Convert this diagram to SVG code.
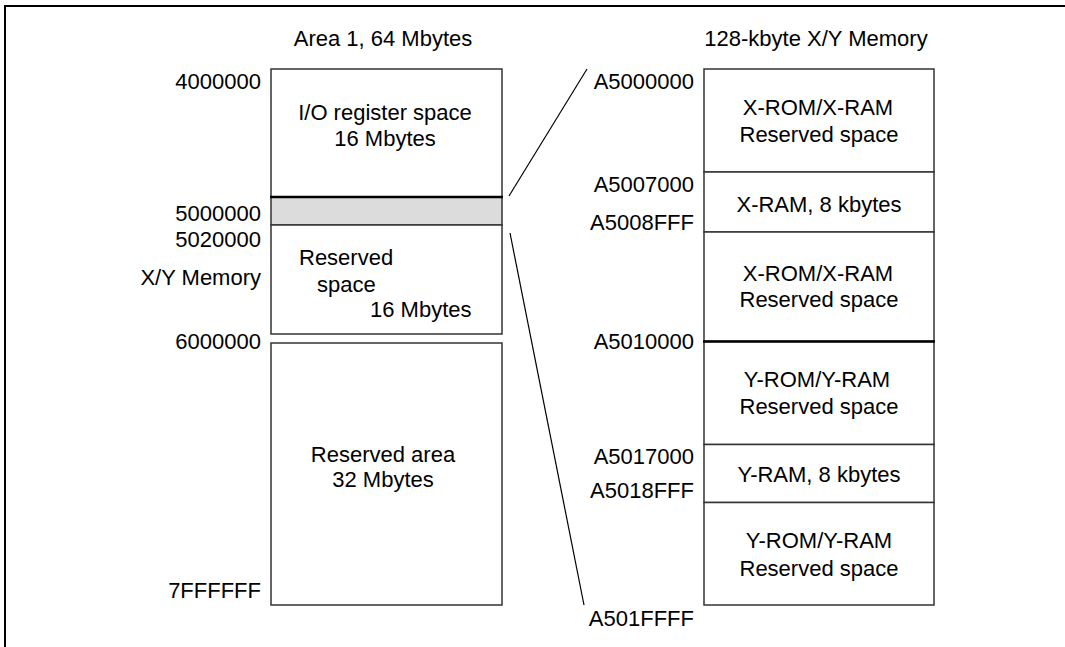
<svg xmlns="http://www.w3.org/2000/svg" width="1065" height="647" viewBox="0 0 1065 647">
<style>
text{font-family:"Liberation Sans",Arial,sans-serif;font-size:22px;fill:#000}
.c{text-anchor:middle}
.r{text-anchor:end}
.box{fill:#fff;stroke:#333;stroke-width:1.5}
.thick{stroke:#000;stroke-width:2.4}
.conn{stroke:#000;stroke-width:1.2;fill:none}
</style>
<rect x="0" y="0" width="1065" height="647" fill="#fff"/>
<rect x="5" y="6" width="1100" height="700" fill="none" stroke="#000" stroke-width="2"/>

<text class="c" x="383" y="46">Area 1, 64 Mbytes</text>
<text class="c" x="816" y="46">128-kbyte X/Y Memory</text>

<g id="left-labels">
<text class="r" x="261" y="89">4000000</text>
<text class="r" x="261" y="221">5000000</text>
<text class="r" x="261" y="247">5020000</text>
<text class="r" x="261" y="285">X/Y Memory</text>
<text class="r" x="261" y="349">6000000</text>
<text class="r" x="261" y="598">7FFFFFF</text>
</g>

<g id="io-register">
<rect class="box" x="271" y="69" width="231" height="128"/>
<text class="c" x="385" y="120">I/O register space</text>
<text class="c" x="385" y="146">16 Mbytes</text>
</g>
<g id="xy-memory">
<rect x="271" y="197" width="231" height="28" fill="#dcdcdc" stroke="#333" stroke-width="1.5"/>
<line class="thick" x1="270" y1="197" x2="503" y2="197"/>
</g>
<g id="reserved-space">
<rect class="box" x="271" y="225" width="231" height="109"/>
<text x="299" y="265">Reserved</text>
<text x="317" y="292">space</text>
<text x="370" y="317">16 Mbytes</text>
</g>
<g id="reserved-area">
<rect class="box" x="271" y="343" width="231" height="262"/>
<text class="c" x="383" y="462">Reserved area</text>
<text class="c" x="383" y="487">32 Mbytes</text>
</g>

<g id="right-labels">
<text class="r" x="694" y="89">A5000000</text>
<text class="r" x="694" y="192">A5007000</text>
<text class="r" x="694" y="230">A5008FFF</text>
<text class="r" x="694" y="349">A5010000</text>
<text class="r" x="694" y="464">A5017000</text>
<text class="r" x="694" y="498">A5018FFF</text>
<text class="r" x="694" y="626">A501FFFF</text>
</g>

<g id="xrom-1">
<rect class="box" x="704" y="69" width="230" height="103"/>
<text class="c" x="818" y="115">X-ROM/X-RAM</text>
<text class="c" x="819" y="142">Reserved space</text>
</g>
<g id="xram">
<rect class="box" x="704" y="172" width="230" height="60"/>
<text class="c" x="819" y="212">X-RAM, 8 kbytes</text>
</g>
<g id="xrom-2">
<rect class="box" x="704" y="232" width="230" height="109.5"/>
<text class="c" x="818" y="281">X-ROM/X-RAM</text>
<text class="c" x="819" y="307">Reserved space</text>
</g>
<g id="yrom-1">
<rect class="box" x="704" y="341.5" width="230" height="103"/>
<line class="thick" x1="703" y1="341.5" x2="935" y2="341.5"/>
<text class="c" x="817" y="387">Y-ROM/Y-RAM</text>
<text class="c" x="819" y="414">Reserved space</text>
</g>
<g id="yram">
<rect class="box" x="704" y="444.5" width="230" height="58"/>
<text class="c" x="819" y="482">Y-RAM, 8 kbytes</text>
</g>
<g id="yrom-2">
<rect class="box" x="704" y="502.5" width="230" height="102.5"/>
<text class="c" x="819" y="548">Y-ROM/Y-RAM</text>
<text class="c" x="819" y="576">Reserved space</text>
</g>

<g id="connectors">
<line class="conn" x1="509" y1="196" x2="587" y2="69"/>
<line class="conn" x1="510" y1="233" x2="584" y2="605"/>
</g>
</svg>
